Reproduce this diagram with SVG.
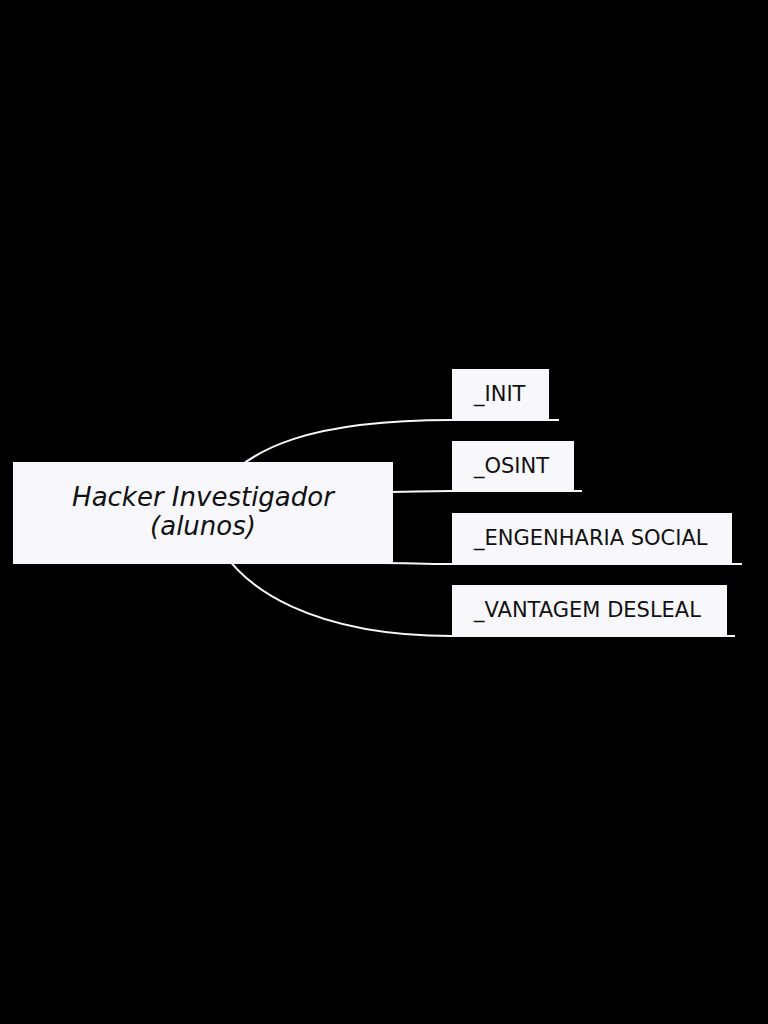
<svg xmlns="http://www.w3.org/2000/svg" width="768" height="1024" viewBox="0 0 768 1024">
<style>
.bg{fill:#000}
.box{fill:#f8f8fc}
.conn{fill:none;stroke:#f8f8fc;stroke-width:2}
.main{font-family:"DejaVu Sans",sans-serif;font-style:italic;font-size:26px;fill:#111;text-anchor:middle}
.lbl{font-family:"DejaVu Sans",sans-serif;font-size:21px;fill:#111}
</style>
<rect class="bg" x="0" y="0" width="768" height="1024"/>
<g id="connectors">
<path class="conn" d="M205 513 C233 440 330 420 452 420 H559"/>
<path class="conn" d="M380 492 C410 492 420 491 452 491 H582"/>
<path class="conn" d="M380 563 C410 563 420 564 452 564 H742"/>
<path class="conn" d="M205 513 C228 598 330 636 452 636 H735"/>
</g>
<g id="root">
<rect class="box" x="13" y="462" width="380" height="102"/>
<text class="main" x="203" y="506">Hacker Investigador</text>
<text class="main" x="203" y="535">(alunos)</text>
</g>
<g id="init">
<rect class="box" x="452" y="369" width="97" height="50"/>
<text class="lbl" x="474" y="401">_INIT</text>
</g>
<g id="osint">
<rect class="box" x="452" y="441" width="122" height="50"/>
<text class="lbl" x="474" y="473">_OSINT</text>
</g>
<g id="engenharia">
<rect class="box" x="452" y="513" width="280" height="50"/>
<text class="lbl" x="474" y="545">_ENGENHARIA SOCIAL</text>
</g>
<g id="vantagem">
<rect class="box" x="452" y="585" width="275" height="50"/>
<text class="lbl" x="474" y="617">_VANTAGEM DESLEAL</text>
</g>
</svg>
